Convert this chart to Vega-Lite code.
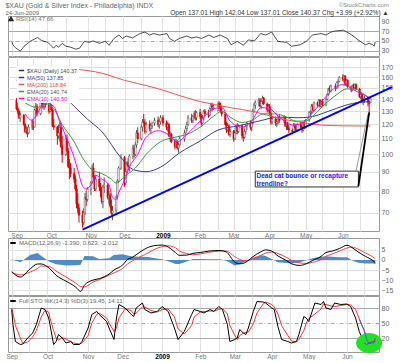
{
"$schema": "https://vega.github.io/schema/vega-lite/v6.json",
"background": "white",
"padding": {"left": 5, "top": 1, "right": 0, "bottom": 0},
"spacing": 1,
"bounds": "flush",
"config": {
 "font": "Liberation Sans",
 "view": {"stroke": "#999", "strokeWidth": 1},
 "axis": {"labelFont": "Liberation Sans", "labelFontSize": 7, "labelColor": "#666", "domain": false, "ticks": false, "gridColor": "#e2e2e2", "labelPadding": 2},
 "legend": {"labelFont": "Liberation Sans"}
},
"title": {"text": "$XAU (Gold & Silver Index - Philadelphia) INDX", "subtitle": "24-Jun-2009", "anchor": "start", "frame": "bounds", "fontSize": 7, "fontWeight": "normal", "color": "#666", "subtitleFontSize": 6, "subtitleColor": "#666", "subtitlePadding": 1, "offset": -15},
"resolve": {"scale": {"color": "independent", "y": "independent"}, "legend": {"color": "independent"}},
"datasets": {
"px": [
{"d":"2008-09-02","o":139,"h":141,"l":131,"c":132},{"d":"2008-09-03","o":132,"h":134,"l":128,"c":130},{"d":"2008-09-04","o":130,"h":131,"l":124,"c":125},{"d":"2008-09-05","o":125,"h":129,"l":122,"c":127},
{"d":"2008-09-08","o":127,"h":128,"l":119,"c":120},{"d":"2008-09-09","o":120,"h":121,"l":114,"c":115},{"d":"2008-09-10","o":115,"h":119,"l":113,"c":117},{"d":"2008-09-11","o":117,"h":118,"l":111,"c":114},{"d":"2008-09-12","o":114,"h":120,"l":113,"c":118},
{"d":"2008-09-15","o":118,"h":124,"l":116,"c":122},{"d":"2008-09-16","o":122,"h":123,"l":116,"c":118},{"d":"2008-09-17","o":118,"h":132,"l":118,"c":131},{"d":"2008-09-18","o":131,"h":137,"l":126,"c":134},{"d":"2008-09-19","o":134,"h":136,"l":126,"c":128},
{"d":"2008-09-22","o":128,"h":139,"l":127,"c":138},{"d":"2008-09-23","o":138,"h":140,"l":133,"c":136},{"d":"2008-09-24","o":136,"h":139,"l":132,"c":134},{"d":"2008-09-25","o":134,"h":138,"l":131,"c":137},{"d":"2008-09-26","o":137,"h":140,"l":133,"c":135},
{"d":"2008-09-29","o":135,"h":138,"l":128,"c":130},{"d":"2008-09-30","o":130,"h":137,"l":129,"c":135},{"d":"2008-10-01","o":135,"h":136,"l":130,"c":131},{"d":"2008-10-02","o":131,"h":132,"l":118,"c":119},{"d":"2008-10-03","o":119,"h":124,"l":116,"c":118},
{"d":"2008-10-06","o":118,"h":119,"l":106,"c":112},{"d":"2008-10-07","o":112,"h":120,"l":110,"c":114},{"d":"2008-10-08","o":114,"h":122,"l":108,"c":118},{"d":"2008-10-09","o":118,"h":121,"l":104,"c":105},{"d":"2008-10-10","o":105,"h":112,"l":95,"c":100},
{"d":"2008-10-13","o":100,"h":112,"l":99,"c":110},{"d":"2008-10-14","o":110,"h":113,"l":100,"c":102},{"d":"2008-10-15","o":102,"h":104,"l":92,"c":93},{"d":"2008-10-16","o":93,"h":97,"l":86,"c":92},{"d":"2008-10-17","o":92,"h":95,"l":87,"c":89},
{"d":"2008-10-20","o":89,"h":92,"l":84,"c":86},{"d":"2008-10-21","o":86,"h":88,"l":80,"c":81},{"d":"2008-10-22","o":81,"h":83,"l":72,"c":74},{"d":"2008-10-23","o":74,"h":79,"l":70,"c":72},{"d":"2008-10-24","o":72,"h":74,"l":66,"c":69},
{"d":"2008-10-27","o":69,"h":71,"l":64,"c":66},{"d":"2008-10-28","o":66,"h":72,"l":65,"c":70},{"d":"2008-10-29","o":70,"h":79,"l":69,"c":77},{"d":"2008-10-30","o":77,"h":80,"l":73,"c":76},{"d":"2008-10-31","o":76,"h":82,"l":75,"c":81},
{"d":"2008-11-03","o":81,"h":85,"l":78,"c":84},{"d":"2008-11-04","o":84,"h":94,"l":84,"c":92},{"d":"2008-11-05","o":92,"h":95,"l":86,"c":87},{"d":"2008-11-06","o":87,"h":88,"l":80,"c":81},{"d":"2008-11-07","o":81,"h":88,"l":80,"c":86},
{"d":"2008-11-10","o":86,"h":90,"l":80,"c":82},{"d":"2008-11-11","o":82,"h":84,"l":77,"c":80},{"d":"2008-11-12","o":80,"h":82,"l":74,"c":75},{"d":"2008-11-13","o":75,"h":83,"l":72,"c":82},{"d":"2008-11-14","o":82,"h":87,"l":79,"c":83},
{"d":"2008-11-17","o":83,"h":84,"l":76,"c":77},{"d":"2008-11-18","o":77,"h":80,"l":74,"c":78},{"d":"2008-11-19","o":78,"h":79,"l":72,"c":73},{"d":"2008-11-20","o":73,"h":76,"l":69,"c":70},{"d":"2008-11-21","o":70,"h":73,"l":67,"c":71},
{"d":"2008-11-24","o":71,"h":78,"l":69,"c":77},{"d":"2008-11-25","o":77,"h":86,"l":76,"c":85},{"d":"2008-11-26","o":85,"h":93,"l":84,"c":92},{"d":"2008-11-28","o":92,"h":100,"l":91,"c":98},
{"d":"2008-12-01","o":98,"h":99,"l":82,"c":84},{"d":"2008-12-02","o":84,"h":92,"l":83,"c":90},{"d":"2008-12-03","o":90,"h":96,"l":89,"c":95},{"d":"2008-12-04","o":95,"h":98,"l":91,"c":93},{"d":"2008-12-05","o":93,"h":100,"l":90,"c":99},
{"d":"2008-12-08","o":99,"h":106,"l":97,"c":104},{"d":"2008-12-09","o":104,"h":106,"l":98,"c":100},{"d":"2008-12-10","o":100,"h":108,"l":99,"c":106},{"d":"2008-12-11","o":106,"h":116,"l":104,"c":114},{"d":"2008-12-12","o":114,"h":118,"l":107,"c":110},
{"d":"2008-12-15","o":110,"h":120,"l":109,"c":118},{"d":"2008-12-16","o":118,"h":124,"l":115,"c":122},{"d":"2008-12-17","o":122,"h":128,"l":119,"c":121},{"d":"2008-12-18","o":121,"h":124,"l":113,"c":115},{"d":"2008-12-19","o":115,"h":122,"l":114,"c":120},
{"d":"2008-12-22","o":120,"h":123,"l":115,"c":117},{"d":"2008-12-23","o":117,"h":121,"l":113,"c":119},{"d":"2008-12-24","o":119,"h":122,"l":117,"c":121},{"d":"2008-12-26","o":121,"h":125,"l":119,"c":123},
{"d":"2008-12-29","o":123,"h":126,"l":118,"c":120},{"d":"2008-12-30","o":120,"h":124,"l":117,"c":122},{"d":"2008-12-31","o":122,"h":127,"l":120,"c":125},{"d":"2009-01-02","o":125,"h":127,"l":119,"c":121},
{"d":"2009-01-05","o":121,"h":123,"l":116,"c":118},{"d":"2009-01-06","o":118,"h":122,"l":115,"c":120},{"d":"2009-01-07","o":120,"h":121,"l":111,"c":112},{"d":"2009-01-08","o":112,"h":115,"l":108,"c":113},{"d":"2009-01-09","o":113,"h":114,"l":107,"c":108},
{"d":"2009-01-12","o":108,"h":110,"l":103,"c":105},{"d":"2009-01-13","o":105,"h":110,"l":104,"c":108},{"d":"2009-01-14","o":108,"h":109,"l":103,"c":104},{"d":"2009-01-15","o":104,"h":107,"l":101,"c":106},{"d":"2009-01-16","o":106,"h":112,"l":105,"c":110},
{"d":"2009-01-20","o":110,"h":116,"l":108,"c":114},{"d":"2009-01-21","o":114,"h":119,"l":112,"c":117},{"d":"2009-01-22","o":117,"h":122,"l":115,"c":120},{"d":"2009-01-23","o":120,"h":127,"l":119,"c":125},
{"d":"2009-01-26","o":125,"h":128,"l":121,"c":123},{"d":"2009-01-27","o":123,"h":127,"l":121,"c":126},{"d":"2009-01-28","o":126,"h":130,"l":124,"c":128},{"d":"2009-01-29","o":128,"h":131,"l":123,"c":125},{"d":"2009-01-30","o":125,"h":130,"l":123,"c":129},
{"d":"2009-02-02","o":129,"h":132,"l":124,"c":126},{"d":"2009-02-03","o":126,"h":128,"l":119,"c":121},{"d":"2009-02-04","o":121,"h":127,"l":120,"c":125},{"d":"2009-02-05","o":125,"h":131,"l":123,"c":130},{"d":"2009-02-06","o":130,"h":132,"l":126,"c":128},
{"d":"2009-02-09","o":128,"h":131,"l":125,"c":127},{"d":"2009-02-10","o":127,"h":133,"l":126,"c":132},{"d":"2009-02-11","o":132,"h":137,"l":130,"c":135},{"d":"2009-02-12","o":135,"h":137,"l":130,"c":133},{"d":"2009-02-13","o":133,"h":136,"l":131,"c":134},
{"d":"2009-02-17","o":134,"h":138,"l":130,"c":136},{"d":"2009-02-18","o":136,"h":138,"l":132,"c":134},{"d":"2009-02-19","o":134,"h":137,"l":129,"c":130},{"d":"2009-02-20","o":130,"h":134,"l":126,"c":128},
{"d":"2009-02-23","o":128,"h":129,"l":119,"c":120},{"d":"2009-02-24","o":120,"h":122,"l":114,"c":116},{"d":"2009-02-25","o":116,"h":121,"l":115,"c":119},{"d":"2009-02-26","o":119,"h":120,"l":112,"c":113},{"d":"2009-02-27","o":113,"h":117,"l":111,"c":115},
{"d":"2009-03-02","o":115,"h":116,"l":108,"c":110},{"d":"2009-03-03","o":110,"h":116,"l":109,"c":114},{"d":"2009-03-04","o":114,"h":120,"l":113,"c":118},{"d":"2009-03-05","o":118,"h":121,"l":113,"c":115},{"d":"2009-03-06","o":115,"h":120,"l":114,"c":119},
{"d":"2009-03-09","o":119,"h":120,"l":110,"c":112},{"d":"2009-03-10","o":112,"h":114,"l":108,"c":111},{"d":"2009-03-11","o":111,"h":117,"l":110,"c":115},{"d":"2009-03-12","o":115,"h":120,"l":113,"c":119},{"d":"2009-03-13","o":119,"h":122,"l":116,"c":121},
{"d":"2009-03-16","o":121,"h":123,"l":116,"c":118},{"d":"2009-03-17","o":118,"h":122,"l":115,"c":121},{"d":"2009-03-18","o":121,"h":132,"l":120,"c":130},{"d":"2009-03-19","o":130,"h":137,"l":129,"c":135},{"d":"2009-03-20","o":135,"h":139,"l":132,"c":137},
{"d":"2009-03-23","o":137,"h":141,"l":134,"c":139},{"d":"2009-03-24","o":139,"h":141,"l":133,"c":134},{"d":"2009-03-25","o":134,"h":140,"l":132,"c":138},{"d":"2009-03-26","o":138,"h":143,"l":136,"c":141},{"d":"2009-03-27","o":141,"h":142,"l":135,"c":136},
{"d":"2009-03-30","o":136,"h":137,"l":129,"c":131},{"d":"2009-03-31","o":131,"h":136,"l":130,"c":134},{"d":"2009-04-01","o":134,"h":136,"l":127,"c":128},{"d":"2009-04-02","o":128,"h":130,"l":120,"c":122},{"d":"2009-04-03","o":122,"h":126,"l":120,"c":124},
{"d":"2009-04-06","o":124,"h":126,"l":119,"c":121},{"d":"2009-04-07","o":121,"h":124,"l":118,"c":122},{"d":"2009-04-08","o":122,"h":126,"l":120,"c":125},{"d":"2009-04-09","o":125,"h":128,"l":121,"c":123},
{"d":"2009-04-13","o":123,"h":127,"l":121,"c":125},{"d":"2009-04-14","o":125,"h":126,"l":118,"c":119},{"d":"2009-04-15","o":119,"h":121,"l":116,"c":120},{"d":"2009-04-16","o":120,"h":122,"l":116,"c":117},{"d":"2009-04-17","o":117,"h":119,"l":114,"c":116},
{"d":"2009-04-20","o":116,"h":117,"l":113,"c":115},{"d":"2009-04-21","o":115,"h":121,"l":114,"c":119},{"d":"2009-04-22","o":119,"h":121,"l":116,"c":118},{"d":"2009-04-23","o":118,"h":120,"l":115,"c":116},{"d":"2009-04-24","o":116,"h":121,"l":115,"c":120},
{"d":"2009-04-27","o":120,"h":122,"l":117,"c":118},{"d":"2009-04-28","o":118,"h":120,"l":114,"c":116},{"d":"2009-04-29","o":116,"h":122,"l":115,"c":121},{"d":"2009-04-30","o":121,"h":123,"l":117,"c":118},{"d":"2009-05-01","o":118,"h":124,"l":117,"c":123},
{"d":"2009-05-04","o":123,"h":130,"l":122,"c":129},{"d":"2009-05-05","o":129,"h":131,"l":126,"c":130},{"d":"2009-05-06","o":130,"h":136,"l":128,"c":134},{"d":"2009-05-07","o":134,"h":136,"l":130,"c":131},{"d":"2009-05-08","o":131,"h":138,"l":130,"c":137},
{"d":"2009-05-11","o":137,"h":138,"l":133,"c":135},{"d":"2009-05-12","o":135,"h":140,"l":134,"c":139},{"d":"2009-05-13","o":139,"h":140,"l":133,"c":134},{"d":"2009-05-14","o":134,"h":139,"l":133,"c":138},{"d":"2009-05-15","o":138,"h":140,"l":134,"c":135},
{"d":"2009-05-18","o":135,"h":141,"l":134,"c":140},{"d":"2009-05-19","o":140,"h":145,"l":139,"c":144},{"d":"2009-05-20","o":144,"h":150,"l":143,"c":149},{"d":"2009-05-21","o":149,"h":152,"l":145,"c":147},{"d":"2009-05-22","o":147,"h":153,"l":146,"c":152},
{"d":"2009-05-26","o":152,"h":154,"l":147,"c":150},{"d":"2009-05-27","o":150,"h":156,"l":149,"c":155},{"d":"2009-05-28","o":155,"h":158,"l":150,"c":156},{"d":"2009-05-29","o":156,"h":161,"l":155,"c":160},
{"d":"2009-06-01","o":160,"h":163,"l":156,"c":158},{"d":"2009-06-02","o":158,"h":162,"l":155,"c":161},{"d":"2009-06-03","o":161,"h":162,"l":152,"c":153},{"d":"2009-06-04","o":153,"h":158,"l":152,"c":157},{"d":"2009-06-05","o":157,"h":158,"l":150,"c":151},
{"d":"2009-06-08","o":151,"h":152,"l":146,"c":148},{"d":"2009-06-09","o":148,"h":153,"l":147,"c":152},{"d":"2009-06-10","o":152,"h":154,"l":148,"c":150},{"d":"2009-06-11","o":150,"h":154,"l":149,"c":153},{"d":"2009-06-12","o":153,"h":154,"l":148,"c":149},
{"d":"2009-06-15","o":149,"h":150,"l":141,"c":142},{"d":"2009-06-16","o":142,"h":146,"l":140,"c":144},{"d":"2009-06-17","o":144,"h":145,"l":137,"c":138},{"d":"2009-06-18","o":138,"h":141,"l":135,"c":139},{"d":"2009-06-19","o":139,"h":143,"l":137,"c":141},
{"d":"2009-06-22","o":141,"h":142,"l":134,"c":137},{"d":"2009-06-23","o":137,"h":138,"l":129,"c":136.38},{"d":"2009-06-24","o":137.01,"h":142.04,"l":137.01,"c":140.37}
],
"ma": [
{"d":"2008-09-02","s":"m50","v":157},{"d":"2008-09-17","s":"m50","v":153},{"d":"2008-10-03","s":"m50","v":150},{"d":"2008-10-20","s":"m50","v":134},{"d":"2008-10-31","s":"m50","v":124},{"d":"2008-11-12","s":"m50","v":115},{"d":"2008-11-28","s":"m50","v":98},{"d":"2008-12-09","s":"m50","v":91},{"d":"2008-12-19","s":"m50","v":90},{"d":"2008-12-31","s":"m50","v":92.5},{"d":"2009-01-16","s":"m50","v":101},{"d":"2009-02-02","s":"m50","v":108.5},{"d":"2009-02-17","s":"m50","v":116},{"d":"2009-03-06","s":"m50","v":119},{"d":"2009-03-23","s":"m50","v":122.5},{"d":"2009-04-09","s":"m50","v":125.5},{"d":"2009-04-24","s":"m50","v":125},{"d":"2009-05-04","s":"m50","v":125.5},{"d":"2009-05-20","s":"m50","v":130},{"d":"2009-06-02","s":"m50","v":134.5},{"d":"2009-06-16","s":"m50","v":137.5},{"d":"2009-06-24","s":"m50","v":137.85},
{"d":"2008-10-22","s":"m200","v":168},{"d":"2008-11-12","s":"m200","v":164},{"d":"2008-12-01","s":"m200","v":157},{"d":"2008-12-23","s":"m200","v":151},{"d":"2009-02-02","s":"m200","v":138},{"d":"2009-02-27","s":"m200","v":133},{"d":"2009-03-20","s":"m200","v":129.5},{"d":"2009-04-09","s":"m200","v":124.5},{"d":"2009-04-24","s":"m200","v":122},{"d":"2009-05-15","s":"m200","v":119.5},{"d":"2009-06-02","s":"m200","v":119},{"d":"2009-06-24","s":"m200","v":118.84},
{"d":"2008-09-09","s":"e20","v":137},{"d":"2008-09-19","s":"e20","v":133},{"d":"2008-09-26","s":"e20","v":136},{"d":"2008-10-03","s":"e20","v":132},{"d":"2008-10-10","s":"e20","v":120},{"d":"2008-10-20","s":"e20","v":108},{"d":"2008-10-27","s":"e20","v":98},{"d":"2008-11-04","s":"e20","v":91},{"d":"2008-11-12","s":"e20","v":89},{"d":"2008-11-20","s":"e20","v":86},{"d":"2008-11-24","s":"e20","v":84},{"d":"2008-12-02","s":"e20","v":88},{"d":"2008-12-10","s":"e20","v":92},{"d":"2008-12-19","s":"e20","v":100},{"d":"2008-12-31","s":"e20","v":108},{"d":"2009-01-12","s":"e20","v":111},{"d":"2009-01-22","s":"e20","v":113},{"d":"2009-02-02","s":"e20","v":118},{"d":"2009-02-13","s":"e20","v":126},{"d":"2009-02-20","s":"e20","v":130},{"d":"2009-02-27","s":"e20","v":125.5},{"d":"2009-03-09","s":"e20","v":121.5},{"d":"2009-03-17","s":"e20","v":123},{"d":"2009-03-27","s":"e20","v":128},{"d":"2009-04-06","s":"e20","v":128},{"d":"2009-04-15","s":"e20","v":125.5},{"d":"2009-04-23","s":"e20","v":122.5},{"d":"2009-05-01","s":"e20","v":122.5},{"d":"2009-05-11","s":"e20","v":130},{"d":"2009-05-19","s":"e20","v":137.5},{"d":"2009-05-27","s":"e20","v":144},{"d":"2009-06-04","s":"e20","v":149},{"d":"2009-06-11","s":"e20","v":149},{"d":"2009-06-19","s":"e20","v":144},{"d":"2009-06-24","s":"e20","v":140.74},
{"d":"2008-09-09","s":"e10","v":128},{"d":"2008-09-15","s":"e10","v":123},{"d":"2008-09-17","s":"e10","v":125},{"d":"2008-09-26","s":"e10","v":137},{"d":"2008-10-03","s":"e10","v":134},{"d":"2008-10-08","s":"e10","v":122},{"d":"2008-10-15","s":"e10","v":108},{"d":"2008-10-20","s":"e10","v":98},{"d":"2008-10-23","s":"e10","v":91},{"d":"2008-10-27","s":"e10","v":82.5},{"d":"2008-10-30","s":"e10","v":81},{"d":"2008-11-04","s":"e10","v":84},{"d":"2008-11-07","s":"e10","v":88},{"d":"2008-11-12","s":"e10","v":86},{"d":"2008-11-18","s":"e10","v":83},{"d":"2008-11-21","s":"e10","v":77},{"d":"2008-11-24","s":"e10","v":76},{"d":"2008-11-26","s":"e10","v":79},{"d":"2008-12-02","s":"e10","v":87},{"d":"2008-12-04","s":"e10","v":91},{"d":"2008-12-12","s":"e10","v":100},{"d":"2008-12-19","s":"e10","v":111},{"d":"2008-12-29","s":"e10","v":115.5},{"d":"2009-01-06","s":"e10","v":113},{"d":"2009-01-14","s":"e10","v":108},{"d":"2009-01-22","s":"e10","v":113},{"d":"2009-02-02","s":"e10","v":122.5},{"d":"2009-02-13","s":"e10","v":132},{"d":"2009-02-20","s":"e10","v":133},{"d":"2009-02-27","s":"e10","v":122.5},{"d":"2009-03-09","s":"e10","v":118},{"d":"2009-03-17","s":"e10","v":122.5},{"d":"2009-03-25","s":"e10","v":133},{"d":"2009-04-01","s":"e10","v":132},{"d":"2009-04-09","s":"e10","v":125.5},{"d":"2009-04-21","s":"e10","v":119.5},{"d":"2009-04-29","s":"e10","v":121.5},{"d":"2009-05-06","s":"e10","v":128},{"d":"2009-05-15","s":"e10","v":138.5},{"d":"2009-05-22","s":"e10","v":147},{"d":"2009-06-01","s":"e10","v":153},{"d":"2009-06-05","s":"e10","v":151.5},{"d":"2009-06-12","s":"e10","v":147},{"d":"2009-06-19","s":"e10","v":143.5},{"d":"2009-06-24","s":"e10","v":140.5}
],
"rsi": [
{"d":"2008-09-02","v":49},{"d":"2008-09-03","v":42},{"d":"2008-09-05","v":36},{"d":"2008-09-09","v":29},{"d":"2008-09-12","v":39},{"d":"2008-09-17","v":49},{"d":"2008-09-23","v":57},{"d":"2008-09-26","v":51},{"d":"2008-10-01","v":47},{"d":"2008-10-03","v":43},{"d":"2008-10-06","v":35},{"d":"2008-10-08","v":41},{"d":"2008-10-10","v":37},{"d":"2008-10-13","v":45},{"d":"2008-10-16","v":39},{"d":"2008-10-20","v":37},{"d":"2008-10-24","v":33},{"d":"2008-10-27","v":35},{"d":"2008-10-31","v":49},{"d":"2008-11-04","v":47},{"d":"2008-11-07","v":50},{"d":"2008-11-12","v":45},{"d":"2008-11-17","v":49},{"d":"2008-11-20","v":41},{"d":"2008-11-24","v":55},{"d":"2008-11-28","v":62},{"d":"2008-12-01","v":55},{"d":"2008-12-04","v":60},{"d":"2008-12-09","v":56},{"d":"2008-12-15","v":65},{"d":"2008-12-19","v":68},{"d":"2008-12-23","v":62},{"d":"2008-12-26","v":65},{"d":"2008-12-31","v":62},{"d":"2009-01-06","v":65},{"d":"2009-01-08","v":55},{"d":"2009-01-12","v":49},{"d":"2009-01-16","v":55},{"d":"2009-01-22","v":60},{"d":"2009-01-26","v":56},{"d":"2009-01-30","v":58},{"d":"2009-02-03","v":55},{"d":"2009-02-09","v":62},{"d":"2009-02-13","v":57},{"d":"2009-02-18","v":62},{"d":"2009-02-24","v":55},{"d":"2009-02-27","v":42},{"d":"2009-03-04","v":49},{"d":"2009-03-09","v":41},{"d":"2009-03-13","v":52},{"d":"2009-03-18","v":50},{"d":"2009-03-23","v":65},{"d":"2009-03-27","v":62},{"d":"2009-04-01","v":68},{"d":"2009-04-03","v":60},{"d":"2009-04-06","v":49},{"d":"2009-04-13","v":47},{"d":"2009-04-17","v":39},{"d":"2009-04-24","v":42},{"d":"2009-04-29","v":49},{"d":"2009-05-04","v":62},{"d":"2009-05-11","v":65},{"d":"2009-05-15","v":62},{"d":"2009-05-19","v":68},{"d":"2009-05-22","v":70},{"d":"2009-05-29","v":72},{"d":"2009-06-01","v":68},{"d":"2009-06-05","v":62},{"d":"2009-06-10","v":52},{"d":"2009-06-16","v":42},{"d":"2009-06-19","v":45},{"d":"2009-06-22","v":42},{"d":"2009-06-23","v":39},{"d":"2009-06-24","v":47.66}
],
"macd": [
{"d":"2008-09-02","m":-5.8,"s":-6.2,"h":0.4},{"d":"2008-09-09","m":-8.5,"s":-7.4,"h":-1.1},{"d":"2008-09-17","m":-4.4,"s":-6.0,"h":2.5},{"d":"2008-09-23","m":-2.0,"s":-4.2,"h":3.5},{"d":"2008-09-26","m":-2.0,"s":-3.0,"h":2.0},{"d":"2008-10-03","m":-4.4,"s":-3.4,"h":-1.0},{"d":"2008-10-08","m":-7.6,"s":-5.5,"h":-2.1},{"d":"2008-10-16","m":-10.5,"s":-8.5,"h":-2.8},{"d":"2008-10-24","m":-13.5,"s":-11.5,"h":-2.6},{"d":"2008-10-28","m":-15.6,"s":-13.2,"h":-2.4},{"d":"2008-10-31","m":-12.5,"s":-13.4,"h":2.0},{"d":"2008-11-07","m":-10,"s":-11,"h":1.8},{"d":"2008-11-12","m":-9.3,"s":-9.8,"h":0.5},{"d":"2008-11-20","m":-7.0,"s":-7.5,"h":0.8},{"d":"2008-11-24","m":-5.0,"s":-6.4,"h":2.5},{"d":"2008-12-01","m":-2.5,"s":-4.2,"h":2.8},{"d":"2008-12-05","m":0.2,"s":-2.0,"h":2.2},{"d":"2008-12-09","m":1.3,"s":-0.4,"h":1.7},{"d":"2008-12-15","m":3.9,"s":1.5,"h":1.6},{"d":"2008-12-22","m":6.3,"s":3.6,"h":1.5},{"d":"2008-12-26","m":7.0,"s":5.0,"h":1.0},{"d":"2009-01-02","m":7.4,"s":6.6,"h":0.4},{"d":"2009-01-07","m":6.4,"s":7.0,"h":-0.6},{"d":"2009-01-13","m":3.6,"s":6.0,"h":-2.0},{"d":"2009-01-16","m":2.3,"s":4.5,"h":-2.0},{"d":"2009-01-22","m":2.4,"s":3.2,"h":-0.8},{"d":"2009-01-27","m":3.3,"s":2.6,"h":0.5},{"d":"2009-02-02","m":3.7,"s":3.0,"h":0.5},{"d":"2009-02-09","m":4.4,"s":3.8,"h":0.4},{"d":"2009-02-18","m":4.7,"s":4.4,"h":0.3},{"d":"2009-02-23","m":4.0,"s":4.4,"h":-0.4},{"d":"2009-03-02","m":-1.1,"s":1.6,"h":-2.7},{"d":"2009-03-06","m":-1.9,"s":0.2,"h":-2.1},{"d":"2009-03-11","m":-1.1,"s":-0.4,"h":-0.7},{"d":"2009-03-16","m":1.3,"s":0.3,"h":1.0},{"d":"2009-03-23","m":4.0,"s":2.2,"h":2.4},{"d":"2009-03-27","m":5.0,"s":3.4,"h":2.0},{"d":"2009-04-01","m":4.4,"s":3.9,"h":0.5},{"d":"2009-04-06","m":2.0,"s":3.2,"h":-1.2},{"d":"2009-04-13","m":-0.3,"s":1.2,"h":-1.5},{"d":"2009-04-17","m":-1.9,"s":-0.2,"h":-1.7},{"d":"2009-04-24","m":-2.7,"s":-1.5,"h":-1.2},{"d":"2009-04-29","m":-1.9,"s":-1.7,"h":-0.2},{"d":"2009-05-04","m":-0.3,"s":-1.2,"h":0.9},{"d":"2009-05-11","m":1.8,"s":0.2,"h":1.6},{"d":"2009-05-15","m":3.7,"s":1.8,"h":1.9},{"d":"2009-05-20","m":4.4,"s":3.0,"h":1.6},{"d":"2009-05-26","m":5.7,"s":4.4,"h":1.3},{"d":"2009-06-01","m":7.3,"s":5.9,"h":1.4},{"d":"2009-06-05","m":6.2,"s":6.4,"h":-0.2},{"d":"2009-06-10","m":4.0,"s":5.4,"h":-1.4},{"d":"2009-06-16","m":1.8,"s":3.5,"h":-1.7},{"d":"2009-06-22","m":-0.3,"s":1.5,"h":-1.8},{"d":"2009-06-24","m":-1.39,"s":0.623,"h":-2.012}
],
"sto": [
{"d":"2008-09-02","k":77,"dd":80},{"d":"2008-09-03","k":47,"dd":70},{"d":"2008-09-05","k":13,"dd":45},{"d":"2008-09-09","k":7,"dd":20},{"d":"2008-09-11","k":8,"dd":9},{"d":"2008-09-15","k":20,"dd":12},{"d":"2008-09-19","k":30,"dd":22},{"d":"2008-09-22","k":47,"dd":35},{"d":"2008-09-26","k":80,"dd":62},{"d":"2008-09-29","k":77,"dd":75},{"d":"2008-10-02","k":60,"dd":72},{"d":"2008-10-03","k":47,"dd":60},{"d":"2008-10-06","k":7,"dd":35},{"d":"2008-10-08","k":13,"dd":20},{"d":"2008-10-10","k":27,"dd":16},{"d":"2008-10-13","k":20,"dd":21},{"d":"2008-10-16","k":10,"dd":18},{"d":"2008-10-20","k":13,"dd":13},{"d":"2008-10-22","k":7,"dd":10},{"d":"2008-10-27","k":7,"dd":8},{"d":"2008-10-29","k":13,"dd":10},{"d":"2008-11-03","k":40,"dd":25},{"d":"2008-11-06","k":67,"dd":50},{"d":"2008-11-10","k":73,"dd":67},{"d":"2008-11-12","k":67,"dd":70},{"d":"2008-11-18","k":53,"dd":60},{"d":"2008-11-20","k":40,"dd":50},{"d":"2008-11-24","k":17,"dd":33},{"d":"2008-11-26","k":60,"dd":40},{"d":"2008-11-28","k":87,"dd":60},{"d":"2008-12-03","k":80,"dd":78},{"d":"2008-12-08","k":67,"dd":75},{"d":"2008-12-10","k":63,"dd":68},{"d":"2008-12-12","k":80,"dd":70},{"d":"2008-12-17","k":90,"dd":82},{"d":"2008-12-19","k":77,"dd":82},{"d":"2008-12-24","k":70,"dd":75},{"d":"2008-12-29","k":73,"dd":72},{"d":"2009-01-02","k":83,"dd":77},{"d":"2009-01-07","k":73,"dd":78},{"d":"2009-01-12","k":40,"dd":62},{"d":"2009-01-15","k":17,"dd":38},{"d":"2009-01-20","k":33,"dd":28},{"d":"2009-01-26","k":67,"dd":45},{"d":"2009-01-28","k":77,"dd":62},{"d":"2009-02-02","k":73,"dd":72},{"d":"2009-02-05","k":70,"dd":73},{"d":"2009-02-10","k":77,"dd":74},{"d":"2009-02-13","k":73,"dd":74},{"d":"2009-02-17","k":83,"dd":77},{"d":"2009-02-20","k":77,"dd":79},{"d":"2009-02-24","k":47,"dd":68},{"d":"2009-02-26","k":13,"dd":45},{"d":"2009-03-02","k":17,"dd":25},{"d":"2009-03-04","k":20,"dd":17},{"d":"2009-03-06","k":37,"dd":25},{"d":"2009-03-09","k":30,"dd":30},{"d":"2009-03-11","k":27,"dd":31},{"d":"2009-03-13","k":40,"dd":32},{"d":"2009-03-17","k":73,"dd":48},{"d":"2009-03-20","k":93,"dd":70},{"d":"2009-03-25","k":92,"dd":88},{"d":"2009-03-27","k":90,"dd":92},{"d":"2009-04-01","k":80,"dd":87},{"d":"2009-04-03","k":77,"dd":82},{"d":"2009-04-06","k":43,"dd":68},{"d":"2009-04-09","k":17,"dd":45},{"d":"2009-04-14","k":13,"dd":25},{"d":"2009-04-17","k":10,"dd":14},{"d":"2009-04-21","k":13,"dd":12},{"d":"2009-04-23","k":27,"dd":17},{"d":"2009-04-27","k":63,"dd":35},{"d":"2009-04-29","k":60,"dd":50},{"d":"2009-05-01","k":53,"dd":59},{"d":"2009-05-06","k":90,"dd":68},{"d":"2009-05-11","k":87,"dd":78},{"d":"2009-05-13","k":93,"dd":88},{"d":"2009-05-15","k":80,"dd":87},{"d":"2009-05-19","k":77,"dd":84},{"d":"2009-05-22","k":90,"dd":83},{"d":"2009-05-27","k":87,"dd":85},{"d":"2009-06-01","k":88,"dd":87},{"d":"2009-06-04","k":83,"dd":86},{"d":"2009-06-08","k":60,"dd":77},{"d":"2009-06-11","k":33,"dd":58},{"d":"2009-06-15","k":10,"dd":35},{"d":"2009-06-17","k":7,"dd":17},{"d":"2009-06-19","k":10,"dd":9},{"d":"2009-06-22","k":13,"dd":10},{"d":"2009-06-23","k":12,"dd":11},{"d":"2009-06-24","k":19.45,"dd":14.11}
],
"trend": [{"d":"2008-10-27","v":63.2},{"d":"2009-07-12","v":150.6}],
"arrow": [{"d":"2009-06-14","v":82.4},{"d":"2009-06-23","v":129.1}],
"arrow2": [{"d":"2009-06-12","v":90.3},{"d":"2009-06-22","v":127.8}],
"box": [{"d":"2009-03-20","d2":"2009-06-14","lo":82,"hi":90.3}],
"note": [{"d":"2009-03-21","v":89.8,"t":"Dead cat bounce or recapture\ntrendline?"}],
"ell": [{"d":"2009-06-19","v":10}]
},
"vconcat": [
{
 "width": 371, "height": 40,
 "title": {"text": "©StockCharts.com", "subtitle": "Open 137.01 High 142.04 Low 137.01 Close 140.37 Chg +3.99 (+2.92%) ▲", "anchor": "end", "frame": "bounds", "fontSize": 6, "fontWeight": "normal", "color": "#888", "subtitleFontSize": 6.5, "subtitleColor": "#333", "subtitlePadding": 2, "offset": 0},
 "data": {"name": "rsi"},
 "mark": {"type": "line", "strokeWidth": 0.8},
 "encoding": {
  "x": {"field": "d", "type": "temporal", "scale": {"type": "utc", "domain": [{"year":2008,"month":8,"date":30,"utc":true},{"year":2009,"month":6,"date":27,"utc":true}]},
   "axis": {"title": null, "labels": false, "values": [{"year":2008,"month":9,"date":2,"utc":true},{"year":2008,"month":9,"date":16,"utc":true},{"year":2008,"month":10,"date":1,"utc":true},{"year":2008,"month":10,"date":16,"utc":true},{"year":2008,"month":11,"date":3,"utc":true},{"year":2008,"month":11,"date":17,"utc":true},{"year":2008,"month":12,"date":1,"utc":true},{"year":2008,"month":12,"date":16,"utc":true},{"year":2009,"month":1,"date":2,"utc":true},{"year":2009,"month":1,"date":16,"utc":true},{"year":2009,"month":2,"date":2,"utc":true},{"year":2009,"month":2,"date":17,"utc":true},{"year":2009,"month":3,"date":2,"utc":true},{"year":2009,"month":3,"date":16,"utc":true},{"year":2009,"month":4,"date":1,"utc":true},{"year":2009,"month":4,"date":16,"utc":true},{"year":2009,"month":5,"date":1,"utc":true},{"year":2009,"month":5,"date":15,"utc":true},{"year":2009,"month":6,"date":1,"utc":true},{"year":2009,"month":6,"date":15,"utc":true}]}},
  "y": {"field": "v", "type": "quantitative", "scale": {"domain": [19, 101], "nice": false, "zero": false},
   "axis": {"title": null, "orient": "right", "values": [30, 50, 70, 90], "gridColor": {"condition": {"test": "datum.value == 90", "value": "rgba(0,0,0,0)"}, "value": "#aaa"}, "gridDash": {"condition": {"test": "datum.value == 50", "value": [4, 2, 1, 2]}, "value": []}}},
  "color": {"datum": "RSI(14) 47.66", "type": "nominal", "scale": {"range": ["#222"]},
   "legend": {"title": null, "orient": "top-left", "offset": 0, "padding": 0, "symbolType": "triangle-up", "symbolSize": 14, "labelFontSize": 6, "labelColor": "#777", "labelOffset": 2,
    "encode": {"symbols": {"update": {"fill": {"value": "#2a2"}, "stroke": {"value": "#2a2"}}}}}}
 }
},
{
 "width": 371, "height": 174,
 "encoding": {
  "x": {"field": "d", "type": "temporal", "scale": {"type": "utc", "domain": [{"year":2008,"month":8,"date":30,"utc":true},{"year":2009,"month":6,"date":27,"utc":true}]},
   "axis": {"title": null, "labelFlush": false, "labelOverlap": false, "labelFontSize": 6.5, "labelPadding": 1,
    "labelExpr": "utcdate(datum.value) > 5 ? '' : (utcmonth(datum.value) == 0 ? '2009' : utcFormat(datum.value, '%b'))",
    "labelColor": {"condition": {"test": "utcmonth(datum.value) == 0", "value": "#000"}, "value": "#777"},
    "labelFontWeight": {"condition": {"test": "utcmonth(datum.value) == 0", "value": "bold"}, "value": "normal"},
    "values": [{"year":2008,"month":9,"date":2,"utc":true},{"year":2008,"month":9,"date":16,"utc":true},{"year":2008,"month":10,"date":1,"utc":true},{"year":2008,"month":10,"date":16,"utc":true},{"year":2008,"month":11,"date":3,"utc":true},{"year":2008,"month":11,"date":17,"utc":true},{"year":2008,"month":12,"date":1,"utc":true},{"year":2008,"month":12,"date":16,"utc":true},{"year":2009,"month":1,"date":2,"utc":true},{"year":2009,"month":1,"date":16,"utc":true},{"year":2009,"month":2,"date":2,"utc":true},{"year":2009,"month":2,"date":17,"utc":true},{"year":2009,"month":3,"date":2,"utc":true},{"year":2009,"month":3,"date":16,"utc":true},{"year":2009,"month":4,"date":1,"utc":true},{"year":2009,"month":4,"date":16,"utc":true},{"year":2009,"month":5,"date":1,"utc":true},{"year":2009,"month":5,"date":15,"utc":true},{"year":2009,"month":6,"date":1,"utc":true},{"year":2009,"month":6,"date":15,"utc":true}]}}
 },
 "layer": [
  {"data": {"name": "px"}, "mark": {"type": "rule", "strokeWidth": 1},
   "encoding": {
    "y": {"field": "l", "type": "quantitative", "scale": {"type": "log", "domain": [62.7, 181], "nice": false}, "axis": {"title": null, "orient": "right", "values": [70,80,90,100,110,120,130,140,150,160,170], "gridColor": "#ddd"}},
    "y2": {"field": "h"},
    "color": {"condition": {"test": "datum.c < datum.o", "value": "#e00000"}, "value": "#555"}}},
  {"data": {"name": "px"}, "mark": {"type": "bar", "width": 1.6, "strokeWidth": 0.5},
   "encoding": {
    "y": {"field": "o", "type": "quantitative", "scale": {"type": "log", "domain": [62.7, 181], "nice": false}, "axis": {"title": null, "orient": "right", "values": [70,80,90,100,110,120,130,140,150,160,170], "gridColor": "#ddd"}},
    "y2": {"field": "c"},
    "fill": {"condition": {"test": "datum.c < datum.o", "value": "#e00000"}, "value": "#ffffff"},
    "stroke": {"condition": {"test": "datum.c < datum.o", "value": "#e00000"}, "value": "#444"}}},
  {"data": {"name": "ma"}, "mark": {"type": "line", "strokeWidth": 1, "interpolate": "monotone"},
   "encoding": {
    "y": {"field": "v", "type": "quantitative", "scale": {"type": "log", "domain": [62.7, 181], "nice": false}, "axis": {"title": null, "orient": "right", "values": [70,80,90,100,110,120,130,140,150,160,170], "gridColor": "#ddd"}},
    "color": {"field": "s", "type": "nominal", "scale": {"domain": ["px","m50","m200","e20","e10"], "range": ["#333","#3a3a99","#ff5050","#3c9a3c","#ff00ff"]},
     "legend": {"title": null, "orient": "top-left", "offset": 9, "padding": 1, "rowPadding": -0.5, "fillColor": "white", "symbolType": "stroke", "symbolSize": 30, "symbolStrokeWidth": 1.5, "labelFontSize": 5.5, "labelOffset": 2,
      "labelExpr": "{'px':'$XAU (Daily) 140.37','m50':'MA(50) 137.85','m200':'MA(200) 118.84','e20':'EMA(20) 140.74','e10':'EMA(10) 140.50'}[datum.label]",
      "encode": {"labels": {"update": {"fill": {"signal": "{'px':'#444','m50':'#3a3a99','m200':'#ff4040','e20':'#555','e10':'#ee00ee'}[datum.value]"}}}}}}}},
  {"data": {"name": "trend"}, "mark": {"type": "line", "strokeWidth": 2, "color": "#0000ff", "clip": false},
   "encoding": {"y": {"field": "v", "type": "quantitative", "scale": {"type": "log", "domain": [62.7, 181], "nice": false}, "axis": {"title": null, "orient": "right", "values": [70,80,90,100,110,120,130,140,150,160,170], "gridColor": "#ddd"}}}},
  {"data": {"name": "box"}, "mark": {"type": "rect", "fill": "white", "stroke": "#333", "strokeWidth": 1},
   "encoding": {"x2": {"field": "d2"}, "y": {"field": "hi", "type": "quantitative", "scale": {"type": "log", "domain": [62.7, 181], "nice": false}, "axis": {"title": null, "orient": "right", "values": [70,80,90,100,110,120,130,140,150,160,170], "gridColor": "#ddd"}}, "y2": {"field": "lo"}}},
  {"data": {"name": "note"}, "mark": {"type": "text", "align": "left", "baseline": "top", "fontSize": 6.5, "fontWeight": "bold", "color": "#1a1aff", "lineBreak": "\n", "lineHeight": 7.5, "dy": 1},
   "encoding": {"y": {"field": "v", "type": "quantitative", "scale": {"type": "log", "domain": [62.7, 181], "nice": false}, "axis": {"title": null, "orient": "right", "values": [70,80,90,100,110,120,130,140,150,160,170], "gridColor": "#ddd"}}, "text": {"field": "t"}}},
  {"data": {"name": "arrow2"}, "mark": {"type": "line", "strokeWidth": 1, "color": "#999"},
   "encoding": {"y": {"field": "v", "type": "quantitative", "scale": {"type": "log", "domain": [62.7, 181], "nice": false}, "axis": {"title": null, "orient": "right", "values": [70,80,90,100,110,120,130,140,150,160,170], "gridColor": "#ddd"}}}},
  {"data": {"name": "arrow"}, "mark": {"type": "line", "strokeWidth": 1.8, "color": "#000"},
   "encoding": {"y": {"field": "v", "type": "quantitative", "scale": {"type": "log", "domain": [62.7, 181], "nice": false}, "axis": {"title": null, "orient": "right", "values": [70,80,90,100,110,120,130,140,150,160,170], "gridColor": "#ddd"}}}}
 ]
},
{
 "width": 371, "height": 5,
 "view": {"stroke": null},
 "data": {"values": [{"a": 1}]},
 "mark": {"type": "point", "opacity": 0},
 "encoding": {}
},
{
 "width": 371, "height": 57,
 "data": {"name": "macd"},
 "encoding": {
  "x": {"field": "d", "type": "temporal", "scale": {"type": "utc", "domain": [{"year":2008,"month":8,"date":30,"utc":true},{"year":2009,"month":6,"date":27,"utc":true}]},
   "axis": {"title": null, "labels": false, "values": [{"year":2008,"month":9,"date":2,"utc":true},{"year":2008,"month":9,"date":16,"utc":true},{"year":2008,"month":10,"date":1,"utc":true},{"year":2008,"month":10,"date":16,"utc":true},{"year":2008,"month":11,"date":3,"utc":true},{"year":2008,"month":11,"date":17,"utc":true},{"year":2008,"month":12,"date":1,"utc":true},{"year":2008,"month":12,"date":16,"utc":true},{"year":2009,"month":1,"date":2,"utc":true},{"year":2009,"month":1,"date":16,"utc":true},{"year":2009,"month":2,"date":2,"utc":true},{"year":2009,"month":2,"date":17,"utc":true},{"year":2009,"month":3,"date":2,"utc":true},{"year":2009,"month":3,"date":16,"utc":true},{"year":2009,"month":4,"date":1,"utc":true},{"year":2009,"month":4,"date":16,"utc":true},{"year":2009,"month":5,"date":1,"utc":true},{"year":2009,"month":5,"date":15,"utc":true},{"year":2009,"month":6,"date":1,"utc":true},{"year":2009,"month":6,"date":15,"utc":true}]}}
 },
 "layer": [
  {"mark": {"type": "area", "color": "#3f80bf", "opacity": 0.9},
   "encoding": {"y": {"field": "h", "type": "quantitative", "scale": {"domain": [-17.4, 10.9], "nice": false, "zero": false}, "axis": {"title": null, "orient": "right", "values": [5, 0, -5, -10, -15]}}, "y2": {"datum": 0}}},
  {"mark": {"type": "line", "color": "#ff4040", "strokeWidth": 1, "interpolate": "monotone"},
   "encoding": {"y": {"field": "s", "type": "quantitative", "scale": {"domain": [-17.4, 10.9], "nice": false, "zero": false}, "axis": {"title": null, "orient": "right", "values": [5, 0, -5, -10, -15]}}}},
  {"mark": {"type": "line", "strokeWidth": 1, "interpolate": "monotone"},
   "encoding": {"y": {"field": "m", "type": "quantitative", "scale": {"domain": [-17.4, 10.9], "nice": false, "zero": false}, "axis": {"title": null, "orient": "right", "values": [5, 0, -5, -10, -15]}},
    "color": {"datum": "MACD(12,26,9) -1.390, 0.623, -2.012", "type": "nominal", "scale": {"range": ["#000"]},
     "legend": {"title": null, "orient": "top-left", "offset": 1, "padding": 0, "symbolType": "stroke", "symbolSize": 30, "symbolStrokeWidth": 2, "labelFontSize": 6, "labelColor": "#666", "labelOffset": 2}}}}
 ]
},
{
 "width": 371, "height": 56,
 "data": {"name": "sto"},
 "encoding": {
  "x": {"field": "d", "type": "temporal", "scale": {"type": "utc", "domain": [{"year":2008,"month":8,"date":30,"utc":true},{"year":2009,"month":6,"date":27,"utc":true}]},
   "axis": {"title": null, "labelFlush": false, "labelOverlap": false, "labelFontSize": 6.5, "labelPadding": 1,
    "labelExpr": "utcdate(datum.value) > 5 ? '' : (utcmonth(datum.value) == 0 ? '2009' : utcFormat(datum.value, '%b'))",
    "labelColor": {"condition": {"test": "utcmonth(datum.value) == 0", "value": "#000"}, "value": "#777"},
    "labelFontWeight": {"condition": {"test": "utcmonth(datum.value) == 0", "value": "bold"}, "value": "normal"},
    "values": [{"year":2008,"month":9,"date":2,"utc":true},{"year":2008,"month":9,"date":16,"utc":true},{"year":2008,"month":10,"date":1,"utc":true},{"year":2008,"month":10,"date":16,"utc":true},{"year":2008,"month":11,"date":3,"utc":true},{"year":2008,"month":11,"date":17,"utc":true},{"year":2008,"month":12,"date":1,"utc":true},{"year":2008,"month":12,"date":16,"utc":true},{"year":2009,"month":1,"date":2,"utc":true},{"year":2009,"month":1,"date":16,"utc":true},{"year":2009,"month":2,"date":2,"utc":true},{"year":2009,"month":2,"date":17,"utc":true},{"year":2009,"month":3,"date":2,"utc":true},{"year":2009,"month":3,"date":16,"utc":true},{"year":2009,"month":4,"date":1,"utc":true},{"year":2009,"month":4,"date":16,"utc":true},{"year":2009,"month":5,"date":1,"utc":true},{"year":2009,"month":5,"date":15,"utc":true},{"year":2009,"month":6,"date":1,"utc":true},{"year":2009,"month":6,"date":15,"utc":true}]}}
 },
 "layer": [
  {"mark": {"type": "line", "color": "#ff3030", "strokeWidth": 1},
   "encoding": {"y": {"field": "dd", "type": "quantitative", "scale": {"domain": [-8, 104], "nice": false, "zero": false}, "axis": {"title": null, "orient": "right", "values": [20, 50, 80], "gridColor": "#aaa", "gridDash": {"condition": {"test": "datum.value == 50", "value": [4, 2, 1, 2]}, "value": []}}}}},
  {"mark": {"type": "line", "strokeWidth": 1},
   "encoding": {"y": {"field": "k", "type": "quantitative", "scale": {"domain": [-8, 104], "nice": false, "zero": false}, "axis": {"title": null, "orient": "right", "values": [20, 50, 80], "gridColor": "#aaa", "gridDash": {"condition": {"test": "datum.value == 50", "value": [4, 2, 1, 2]}, "value": []}}},
    "color": {"datum": "Full STO %K(14,3) %D(3) 19.45, 14.11", "type": "nominal", "scale": {"range": ["#000"]},
     "legend": {"title": null, "orient": "top-left", "offset": 1, "padding": 0, "symbolType": "stroke", "symbolSize": 30, "symbolStrokeWidth": 2, "labelFontSize": 6, "labelColor": "#666", "labelOffset": 2}}}},
  {"data": {"name": "ell"}, "mark": {"type": "point", "shape": "M-1.3,0A1.3,1,0,1,1,1.3,0A1.3,1,0,1,1,-1.3,0Z", "size": 400, "filled": true, "color": "#22e022", "opacity": 1},
   "encoding": {"y": {"field": "v", "type": "quantitative", "scale": {"domain": [-8, 104], "nice": false, "zero": false}, "axis": {"title": null, "orient": "right", "values": [20, 50, 80], "gridColor": "#aaa", "gridDash": {"condition": {"test": "datum.value == 50", "value": [4, 2, 1, 2]}, "value": []}}}}},
  {"transform": [{"filter": "time(datum.d) >= utc(2009,5,11)"}], "mark": {"type": "line", "color": "#3060ff", "strokeWidth": 1},
   "encoding": {"y": {"field": "dd", "type": "quantitative", "scale": {"domain": [-8, 104], "nice": false, "zero": false}, "axis": {"title": null, "orient": "right", "values": [20, 50, 80], "gridColor": "#aaa", "gridDash": {"condition": {"test": "datum.value == 50", "value": [4, 2, 1, 2]}, "value": []}}}}},
  {"transform": [{"filter": "time(datum.d) >= utc(2009,5,15)"}], "mark": {"type": "line", "color": "#dd00dd", "strokeWidth": 1},
   "encoding": {"y": {"field": "k", "type": "quantitative", "scale": {"domain": [-8, 104], "nice": false, "zero": false}, "axis": {"title": null, "orient": "right", "values": [20, 50, 80], "gridColor": "#aaa", "gridDash": {"condition": {"test": "datum.value == 50", "value": [4, 2, 1, 2]}, "value": []}}}}}
 ]
}
]
}
